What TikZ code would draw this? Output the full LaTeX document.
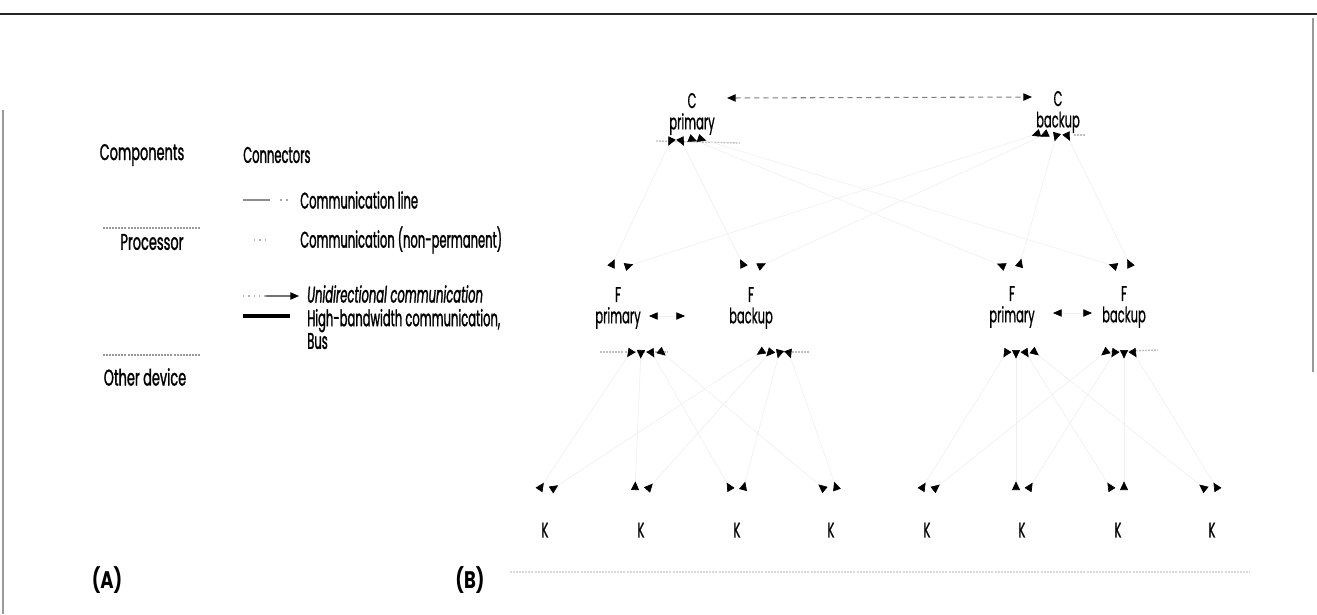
\documentclass[tikz,border=0pt]{standalone}
\usepackage{fontspec}
\newfontfamily\fut[FakeStretch=0.51,FakeBold=1.2]{Poppins}
\newfontfamily\futl[FakeStretch=0.57,FakeBold=1.2]{Poppins}
\newfontfamily\futb[FakeStretch=0.54,FakeBold=0.6]{Poppins}
\newfontfamily\futw[FakeStretch=0.75]{Poppins}
\usetikzlibrary{arrows.meta}
\tikzset{
  hd/.tip={Triangle[reversed,length=6.5pt,width=6pt,color=black]},
  ar/.tip={Triangle[length=6.5pt,width=5.5pt,color=black]},
  lbl/.style={font={\futb\fontsize{16}{16}\selectfont}, inner sep=0pt, align=center},
  lft/.style={font={\futl\fontsize{17}{18}\selectfont}, inner sep=0pt, align=center},
  leg/.style={font={\fut\fontsize{17}{16.5}\selectfont}, inner sep=0pt, anchor=west, align=left},
  link/.style={draw=black!6, line width=0.5pt, hd-hd},
  speck/.style={draw=black!40, line width=1pt, dash pattern=on 1.5pt off 0.8pt},
  frame/.style={draw=black!40, line width=1.5pt},
}
\begin{document}
\begin{tikzpicture}[x=0.75pt,y=-0.75pt]
\useasboundingbox (0,0) rectangle (1317,614);
% page frame
\draw[black!85, line width=2pt] (0,14) -- (1317,14);
\draw[frame] (3,110) -- (3,614);
\draw[frame] (1313,18) -- (1313,372);

% ---------- (A) legend ----------
\node[lft] (hcomp) at (142,155) {Components};
\node[leg] (hconn) at (243,155) {Connectors};
\draw[speck] (103,228) -- (200,228);
\node[lft] (proc) at (152,242) {Processor};
\draw[speck] (103,355) -- (200,355);
\node[lft] (oth) at (145,377) {Other device};

\draw[black!45, line width=0.8pt] (243,200) -- (270,200);
\draw[black!35, line width=0.8pt, dash pattern=on 1.5pt off 3pt] (280,200) -- (292,200);
\node[leg] (t1) at (300,200) {Communication line};
\draw[black!30, line width=0.8pt, dash pattern=on 1pt off 3pt] (254,240) -- (268,240);
\node[leg] (t2) at (300,240) {Communication (non-permanent)};
\draw[black!30, line width=0.8pt, dash pattern=on 1pt off 3pt] (243,296) -- (266,296);
\draw[black!55, line width=0.8pt, -ar] (266,296) -- (299,296);
\node[leg, font={\fut\itshape\fontsize{17}{16.5}\selectfont}] (t3) at (307,294) {Unidirectional communication};
\draw[black, line width=3.5pt] (243,316) -- (290,316);
\node[leg] (t4) at (307,329) {High-bandwidth communication,\\[0.5pt]Bus};

\node[font={\futw\bfseries\fontsize{18}{20}\selectfont}, inner sep=0pt] (la) at (107,580) {(A)};
\node[font={\futw\bfseries\fontsize{18}{20}\selectfont}, inner sep=0pt] (lb) at (470,580) {(B)};

% ---------- (B) system ----------
% C processors
\node[lbl] (Cp) at (692,114) {C\\primary};
\node[lbl] (Cb) at (1058,112) {C\\backup};
\draw[speck, draw=black!25] (656,141) -- (740,143);
\draw[speck, draw=black!25] (1074,135) -- (1086,135);
\draw[black!50, line width=0.8pt, dash pattern=on 4pt off 3pt, ar-ar] (727,98) -- (1032,97);
\foreach \j/\x in {1/672,2/680,3/689,4/698}{\coordinate (Cp-b\j) at (\x,138);}
\foreach \j/\x in {1/1040,2/1048,3/1057,4/1066}{\coordinate (Cb-b\j) at (\x,133);}

% F processors
\node[lbl] (F1) at (618,308) {F\\primary};
\node[lbl] (F2) at (751,308) {F\\backup};
\node[lbl] (F3) at (1012,307) {F\\primary};
\node[lbl] (F4) at (1124,307) {F\\backup};
\draw[speck, draw=black!25] (600,352) -- (668,352);
\draw[speck, draw=black!25] (758,352) -- (810,352);
\draw[speck, draw=black!25] (1102,352) -- (1158,350);
\foreach \n/\x in {1/618,2/751,3/1012,4/1124}{
  \coordinate (F\n-t1) at (\x-7,267);
  \coordinate (F\n-t2) at (\x+7,267);
}
\foreach \j/\x in {1/632,2/641,3/650,4/659}{\coordinate (F1-b\j) at (\x,350);}
\foreach \j/\x in {1/764,2/772,3/780,4/788}{\coordinate (F2-b\j) at (\x,350);}
\foreach \j/\x in {1/1008,2/1016,3/1024,4/1032}{\coordinate (F3-b\j) at (\x,350);}
\foreach \j/\x in {1/1108,2/1116,3/1124,4/1132}{\coordinate (F4-b\j) at (\x,350);}

\coordinate (F1-e) at (649,316); \coordinate (F2-w) at (685,316);
\coordinate (F3-e) at (1053,313); \coordinate (F4-w) at (1092,313);
\draw[draw=black!6, line width=0.5pt, ar-ar] (F1-e) -- (F2-w);
\draw[draw=black!6, line width=0.5pt, ar-ar] (F3-e) -- (F4-w);

% K devices
\foreach \i/\x in {1/545,2/641,3/737,4/831,5/927,6/1022,7/1118,8/1212}{
  \node[lbl] (K\i) at (\x,530) {K};
  \coordinate (K\i-1) at (\x-6,490);
  \coordinate (K\i-2) at (\x+6,490);
}
% bus
\draw[speck, draw=black!15] (510,572) -- (1250,572);

% links C -> F
\foreach \j in {1,...,4}{
  \draw[link] (Cp-b\j) -- (F\j-t1);
  \draw[link] (Cb-b\j) -- (F\j-t2);
}
% links F -> K
\foreach \j in {1,...,4}{
  \pgfmathtruncatemacro{\k}{\j+4}
  \draw[link] (F1-b\j) -- (K\j-1);
  \draw[link] (F2-b\j) -- (K\j-2);
  \draw[link] (F3-b\j) -- (K\k-1);
  \draw[link] (F4-b\j) -- (K\k-2);
}
\end{tikzpicture}
\end{document}
